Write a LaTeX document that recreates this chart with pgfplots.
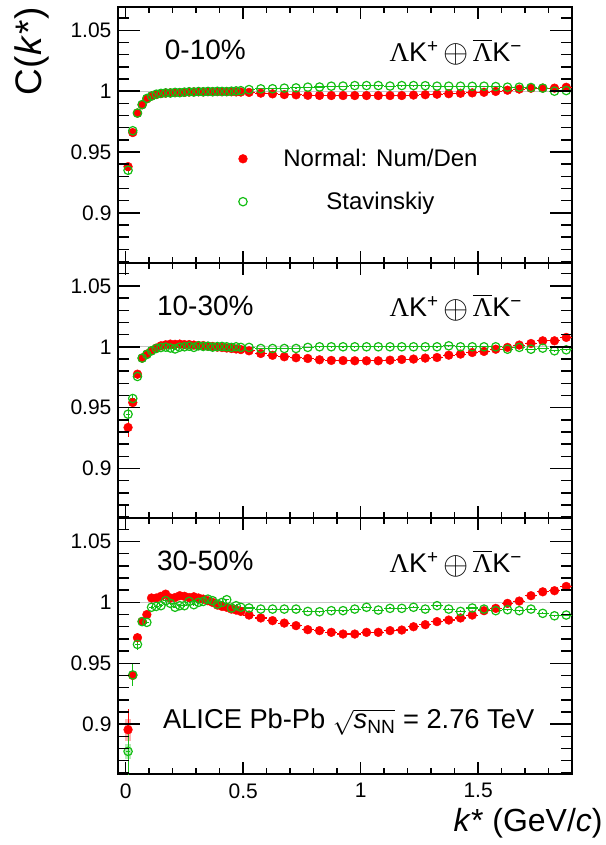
\documentclass[border=0pt]{standalone}
\usepackage{fontspec}
\setmainfont{Liberation Sans}
\newfontfamily\serif{Liberation Serif}
\usepackage{amsmath}
\usepackage{graphicx}
\usepackage{pgfplots}
\usepackage{pgfplotstable}
\pgfplotsset{compat=1.18}
\definecolor{rgreen}{RGB}{20,190,20}

% columns: k*, C, x error, y error
\pgfplotstableread{
x y ex ey
0.01 0.9380 0.01 0.0030
0.03 0.9660 0.01 0.0020
0.05 0.9820 0.01 0.0012
0.07 0.9888 0.01 0.0010
0.09 0.9937 0.01 0.0008
0.11 0.9960 0.01 0.0007
0.13 0.9972 0.01 0.0006
0.15 0.9980 0.01 0.0005
0.17 0.9984 0.01 0.0005
0.19 0.9986 0.01 0.0005
0.21 0.9987 0.01 0.0005
0.23 0.9989 0.01 0.0005
0.25 0.9990 0.01 0.0005
0.27 0.9993 0.01 0.0005
0.29 0.9994 0.01 0.0005
0.31 0.9995 0.01 0.0005
0.33 0.9994 0.01 0.0005
0.35 0.9996 0.01 0.0005
0.37 0.9995 0.01 0.0005
0.39 0.9996 0.01 0.0005
0.41 0.9995 0.01 0.0005
0.43 0.9996 0.01 0.0005
0.45 0.9995 0.01 0.0005
0.47 0.9994 0.01 0.0005
0.49 0.9993 0.01 0.0005
0.525 0.9990 0.025 0.0004
0.575 0.9984 0.025 0.0004
0.625 0.9978 0.025 0.0004
0.675 0.9972 0.025 0.0004
0.725 0.9970 0.025 0.0004
0.775 0.9966 0.025 0.0004
0.825 0.9965 0.025 0.0004
0.875 0.9964 0.025 0.0004
0.925 0.9964 0.025 0.0004
0.975 0.9964 0.025 0.0004
1.025 0.9964 0.025 0.0004
1.075 0.9964 0.025 0.0004
1.125 0.9964 0.025 0.0004
1.175 0.9964 0.025 0.0004
1.225 0.9968 0.025 0.0004
1.275 0.9971 0.025 0.0004
1.325 0.9975 0.025 0.0004
1.375 0.9979 0.025 0.0004
1.425 0.9983 0.025 0.0004
1.475 0.9986 0.025 0.0004
1.525 0.9991 0.025 0.0004
1.575 0.9998 0.025 0.0004
1.625 1.0008 0.025 0.0004
1.675 1.0017 0.025 0.0004
1.725 1.0024 0.025 0.0004
1.775 1.0025 0.025 0.0004
1.825 1.0025 0.025 0.0004
1.875 1.0032 0.025 0.0004
}\redA

\pgfplotstableread{
x y ex ey
0.01 0.9350 0.01 0.0030
0.03 0.9675 0.01 0.0020
0.05 0.9820 0.01 0.0012
0.07 0.9890 0.01 0.0010
0.09 0.9940 0.01 0.0008
0.11 0.9960 0.01 0.0007
0.13 0.9975 0.01 0.0006
0.15 0.9982 0.01 0.0005
0.17 0.9986 0.01 0.0005
0.19 0.9985 0.01 0.0005
0.21 0.9990 0.01 0.0005
0.23 0.9988 0.01 0.0005
0.25 0.9992 0.01 0.0005
0.27 0.9995 0.01 0.0005
0.29 0.9993 0.01 0.0005
0.31 0.9997 0.01 0.0005
0.33 0.9995 0.01 0.0005
0.35 0.9998 0.01 0.0005
0.37 0.9996 0.01 0.0005
0.39 0.9999 0.01 0.0005
0.41 0.9998 0.01 0.0005
0.43 0.9997 0.01 0.0005
0.45 1.0000 0.01 0.0005
0.47 1.0002 0.01 0.0005
0.49 1.0004 0.01 0.0005
0.525 1.0013 0.025 0.0004
0.575 1.0019 0.025 0.0004
0.625 1.0020 0.025 0.0004
0.675 1.0025 0.025 0.0004
0.725 1.0027 0.025 0.0004
0.775 1.0033 0.025 0.0004
0.825 1.0034 0.025 0.0004
0.875 1.0041 0.025 0.0004
0.925 1.0042 0.025 0.0004
0.975 1.0046 0.025 0.0004
1.025 1.0046 0.025 0.0004
1.075 1.0046 0.025 0.0004
1.125 1.0042 0.025 0.0004
1.175 1.0046 0.025 0.0004
1.225 1.0046 0.025 0.0004
1.275 1.0045 0.025 0.0004
1.325 1.0041 0.025 0.0004
1.375 1.0041 0.025 0.0004
1.425 1.0041 0.025 0.0004
1.475 1.0040 0.025 0.0004
1.525 1.0041 0.025 0.0004
1.575 1.0038 0.025 0.0004
1.625 1.0033 0.025 0.0004
1.675 1.0033 0.025 0.0004
1.725 1.0030 0.025 0.0004
1.775 1.0025 0.025 0.0004
1.825 1.0000 0.025 0.0004
1.875 1.0005 0.025 0.0004
}\greenA

\pgfplotstableread{
x y ex ey
0.01 0.9337 0.01 0.0075
0.03 0.9542 0.01 0.0040
0.05 0.9775 0.01 0.0020
0.07 0.9907 0.01 0.0012
0.09 0.9940 0.01 0.0010
0.11 0.9967 0.01 0.0008
0.13 0.9989 0.01 0.0007
0.15 1.0008 0.01 0.0006
0.17 1.0016 0.01 0.0006
0.19 1.0022 0.01 0.0006
0.21 1.0020 0.01 0.0006
0.23 1.0022 0.01 0.0006
0.25 1.0018 0.01 0.0006
0.27 1.0018 0.01 0.0006
0.29 1.0014 0.01 0.0006
0.31 1.0010 0.01 0.0006
0.33 1.0010 0.01 0.0006
0.35 1.0004 0.01 0.0006
0.37 1.0003 0.01 0.0006
0.39 0.9997 0.01 0.0006
0.41 0.9994 0.01 0.0006
0.43 0.9990 0.01 0.0006
0.45 0.9986 0.01 0.0006
0.47 0.9982 0.01 0.0006
0.49 0.9977 0.01 0.0006
0.525 0.9967 0.025 0.0005
0.575 0.9945 0.025 0.0005
0.625 0.9930 0.025 0.0005
0.675 0.9918 0.025 0.0005
0.725 0.9910 0.025 0.0005
0.775 0.9904 0.025 0.0005
0.825 0.9893 0.025 0.0005
0.875 0.9888 0.025 0.0005
0.925 0.9887 0.025 0.0005
0.975 0.9885 0.025 0.0005
1.025 0.9885 0.025 0.0005
1.075 0.9885 0.025 0.0005
1.125 0.9890 0.025 0.0005
1.175 0.9896 0.025 0.0005
1.225 0.9899 0.025 0.0005
1.275 0.9907 0.025 0.0005
1.325 0.9912 0.025 0.0005
1.375 0.9931 0.025 0.0005
1.425 0.9940 0.025 0.0005
1.475 0.9953 0.025 0.0005
1.525 0.9962 0.025 0.0005
1.575 0.9980 0.025 0.0005
1.625 0.9995 0.025 0.0005
1.675 1.0014 0.025 0.0005
1.725 1.0027 0.025 0.0005
1.775 1.0049 0.025 0.0005
1.825 1.0049 0.025 0.0005
1.875 1.0077 0.025 0.0005
}\redB

\pgfplotstableread{
x y ex ey
0.01 0.9446 0.01 0.0060
0.03 0.9575 0.01 0.0040
0.05 0.9756 0.01 0.0020
0.07 0.9907 0.01 0.0012
0.09 0.9937 0.01 0.0010
0.11 0.9967 0.01 0.0008
0.13 0.9986 0.01 0.0007
0.15 0.9994 0.01 0.0006
0.17 0.9997 0.01 0.0006
0.19 0.9990 0.01 0.0006
0.21 0.9982 0.01 0.0006
0.23 0.9997 0.01 0.0006
0.25 1.0000 0.01 0.0006
0.27 1.0005 0.01 0.0006
0.29 0.9995 0.01 0.0006
0.31 1.0008 0.01 0.0006
0.33 1.0003 0.01 0.0006
0.35 1.0005 0.01 0.0006
0.37 0.9997 0.01 0.0006
0.39 1.0002 0.01 0.0006
0.41 1.0003 0.01 0.0006
0.43 1.0000 0.01 0.0006
0.45 0.9995 0.01 0.0006
0.47 1.0000 0.01 0.0006
0.49 0.9995 0.01 0.0006
0.525 0.9995 0.025 0.0005
0.575 0.9986 0.025 0.0005
0.625 0.9986 0.025 0.0005
0.675 0.9986 0.025 0.0005
0.725 0.9986 0.025 0.0005
0.775 0.9995 0.025 0.0005
0.825 1.0000 0.025 0.0005
0.875 1.0000 0.025 0.0005
0.925 1.0000 0.025 0.0005
0.975 1.0000 0.025 0.0005
1.025 1.0000 0.025 0.0005
1.075 1.0000 0.025 0.0005
1.125 1.0000 0.025 0.0005
1.175 1.0000 0.025 0.0005
1.225 1.0000 0.025 0.0005
1.275 1.0000 0.025 0.0005
1.325 1.0000 0.025 0.0005
1.375 1.0008 0.025 0.0005
1.425 1.0000 0.025 0.0005
1.475 1.0000 0.025 0.0005
1.525 1.0000 0.025 0.0005
1.575 1.0000 0.025 0.0005
1.625 0.9980 0.025 0.0005
1.675 0.9995 0.025 0.0005
1.725 0.9980 0.025 0.0005
1.775 0.9989 0.025 0.0005
1.825 0.9967 0.025 0.0005
1.875 0.9975 0.025 0.0005
}\greenB

\pgfplotstableread{
x y ex ey
0.01 0.8954 0.01 0.0170
0.03 0.9400 0.01 0.0090
0.05 0.9710 0.01 0.0040
0.07 0.9844 0.01 0.0025
0.09 0.9900 0.01 0.0015
0.11 1.0036 0.01 0.0012
0.13 1.0036 0.01 0.0010
0.15 1.0050 0.01 0.0010
0.17 1.0068 0.01 0.0010
0.19 1.0036 0.01 0.0010
0.21 1.0040 0.01 0.0010
0.23 1.0055 0.01 0.0010
0.25 1.0050 0.01 0.0010
0.27 1.0040 0.01 0.0010
0.29 1.0046 0.01 0.0010
0.31 1.0036 0.01 0.0010
0.33 1.0027 0.01 0.0010
0.35 1.0014 0.01 0.0010
0.37 1.0000 0.01 0.0010
0.39 0.9978 0.01 0.0010
0.41 0.9967 0.01 0.0010
0.43 0.9960 0.01 0.0010
0.45 0.9945 0.01 0.0010
0.47 0.9937 0.01 0.0010
0.49 0.9926 0.01 0.0010
0.525 0.9896 0.025 0.0008
0.575 0.9872 0.025 0.0008
0.625 0.9850 0.025 0.0008
0.675 0.9830 0.025 0.0008
0.725 0.9809 0.025 0.0008
0.775 0.9776 0.025 0.0008
0.825 0.9768 0.025 0.0008
0.875 0.9754 0.025 0.0008
0.925 0.9740 0.025 0.0008
0.975 0.9740 0.025 0.0008
1.025 0.9754 0.025 0.0008
1.075 0.9754 0.025 0.0008
1.125 0.9768 0.025 0.0008
1.175 0.9773 0.025 0.0008
1.225 0.9800 0.025 0.0008
1.275 0.9817 0.025 0.0008
1.325 0.9842 0.025 0.0008
1.375 0.9855 0.025 0.0008
1.425 0.9872 0.025 0.0008
1.475 0.9896 0.025 0.0008
1.525 0.9932 0.025 0.0008
1.575 0.9951 0.025 0.0008
1.625 0.9992 0.025 0.0008
1.675 1.0011 0.025 0.0008
1.725 1.0055 0.025 0.0008
1.775 1.0087 0.025 0.0008
1.825 1.0096 0.025 0.0008
1.875 1.0131 0.025 0.0008
}\redC

\pgfplotstableread{
x y ex ey
0.01 0.8776 0.01 0.0200
0.03 0.9404 0.01 0.0090
0.05 0.9655 0.01 0.0050
0.07 0.9842 0.01 0.0025
0.09 0.9836 0.01 0.0015
0.11 0.9960 0.01 0.0012
0.13 0.9967 0.01 0.0010
0.15 0.9973 0.01 0.0010
0.17 1.0014 0.01 0.0010
0.19 0.9992 0.01 0.0010
0.21 0.9960 0.01 0.0010
0.23 0.9973 0.01 0.0010
0.25 0.9973 0.01 0.0010
0.27 1.0008 0.01 0.0010
0.29 0.9981 0.01 0.0010
0.31 1.0000 0.01 0.0010
0.33 1.0008 0.01 0.0010
0.35 1.0027 0.01 0.0010
0.37 1.0014 0.01 0.0010
0.39 0.9986 0.01 0.0010
0.41 1.0000 0.01 0.0010
0.43 1.0022 0.01 0.0010
0.45 0.9954 0.01 0.0010
0.47 0.9973 0.01 0.0010
0.49 0.9960 0.01 0.0010
0.525 0.9954 0.025 0.0008
0.575 0.9945 0.025 0.0008
0.625 0.9945 0.025 0.0008
0.675 0.9945 0.025 0.0008
0.725 0.9945 0.025 0.0008
0.775 0.9926 0.025 0.0008
0.825 0.9923 0.025 0.0008
0.875 0.9932 0.025 0.0008
0.925 0.9932 0.025 0.0008
0.975 0.9945 0.025 0.0008
1.025 0.9960 0.025 0.0008
1.075 0.9937 0.025 0.0008
1.125 0.9951 0.025 0.0008
1.175 0.9951 0.025 0.0008
1.225 0.9960 0.025 0.0008
1.275 0.9945 0.025 0.0008
1.325 0.9973 0.025 0.0008
1.375 0.9945 0.025 0.0008
1.425 0.9926 0.025 0.0008
1.475 0.9954 0.025 0.0008
1.525 0.9945 0.025 0.0008
1.575 0.9932 0.025 0.0008
1.625 0.9940 0.025 0.0008
1.675 0.9932 0.025 0.0008
1.725 0.9945 0.025 0.0008
1.775 0.9910 0.025 0.0008
1.825 0.9890 0.025 0.0008
1.875 0.9896 0.025 0.0008
}\greenC

\pgfplotsset{
  geom/.style={
    scale only axis, width=454.3pt, height=255.7pt,
    xmin=-0.033, xmax=1.9, ymin=0.859, ymax=1.069,
    tick align=inside,
    every tick/.append style={black, line width=1.5pt},
    tick label style={font=\fontsize{21}{25}\selectfont},
    /pgf/number format/assume math mode=true,
  },
  % frame, data, y ticks and their labels
  panel/.style={geom,
    axis line style={line width=2pt},
    xtick=\empty,
    ytick={0.9,0.95,1,1.05}, minor y tick num=4,
    major tick length=22pt, minor tick length=11pt,
    yticklabel style={xshift=-3pt},
  },
  % shorter x ticks and their labels
  xaxisticks/.style={geom,
    axis line style={draw=none},
    ytick=\empty,
    xtick={0,0.5,1,1.5}, minor x tick num=4,
    major tick length=12pt, minor tick length=6pt,
    xticklabel style={yshift=-6pt},
  },
  redpts/.style={only marks, mark=*, mark size=4.4pt, color=red,
    mark options={fill=red, draw=red},
    error bars/.cd, x dir=both, x explicit, y dir=both, y explicit,
    error mark=none, error bar style={line width=1.1pt, red}},
  greenpts/.style={only marks, mark=o, mark size=4.2pt, color=rgreen,
    mark options={draw=rgreen, line width=1.2pt},
    error bars/.cd, x dir=both, x explicit, y dir=both, y explicit,
    error mark=none, error bar style={line width=1.1pt, rgreen}},
  unity/.style={gray!45, line width=1pt, forget plot},
}
\tikzset{
  lbl/.style={anchor=base, font=\fontsize{28}{32}\selectfont},
  sys/.style={anchor=base, font=\fontsize{27}{30}\selectfont},
  tk/.style={draw=black, line width=1.5pt},
}
\newcommand{\system}{{\serif Λ}K\textsuperscript{+}\,\raisebox{-1.5pt}{\scalebox{1.3}{$\oplus$}}\,$\overline{\text{\serif Λ}}$K\textsuperscript{−}}

\begin{document}
\begin{tikzpicture}

% 30-50%
\begin{axis}[panel, at={(0,0)}, name=pC]
\addplot[unity] coordinates {(-0.033,1) (1.9,1)};
\addplot[forget plot, draw=none, mark=none, error bars/.cd, y dir=both, y explicit,
  error mark=none, error bar style={draw=red!30, line width=6pt}]
  coordinates {(0.01,0.8954) +- (0,0.009)};
\addplot[forget plot, draw=none, mark=none, error bars/.cd, y dir=both, y explicit,
  error mark=none, error bar style={draw=rgreen!30, line width=6pt}]
  coordinates {(0.01,0.8776) +- (0,0.006)};
\addplot[forget plot, redpts] table[x=x, y=y, x error=ex, y error=ey] {\redC};
\addplot[forget plot, greenpts] table[x=x, y=y, x error=ex, y error=ey] {\greenC};
\node[lbl] at (axis cs:0.339,1.026) {30-50\%};
\node[sys] at (axis cs:1.405,1.0245) {\system};
\node[anchor=base, font=\fontsize{27.3}{30}\selectfont] at (axis cs:0.949,0.896)
  {ALICE Pb-Pb $\sqrt{\text{\textit{s}}_{\text{NN}}}$ = 2.76 TeV};
\end{axis}
\begin{axis}[xaxisticks, at={(0,0)}]
\end{axis}

% 10-30%
\begin{axis}[panel, at={(0,255.7pt)}]
\addplot[unity] coordinates {(-0.033,1) (1.9,1)};
\addplot[forget plot, redpts] table[x=x, y=y, x error=ex, y error=ey] {\redB};
\addplot[forget plot, greenpts] table[x=x, y=y, x error=ex, y error=ey] {\greenB};
\node[lbl] at (axis cs:0.339,1.026) {10-30\%};
\node[sys] at (axis cs:1.405,1.0245) {\system};
\end{axis}
\begin{axis}[xaxisticks, at={(0,255.7pt)}, xticklabels={}]
\end{axis}

% 0-10%
\begin{axis}[panel, at={(0,511.4pt)}, name=pA,
  legend style={at={(axis cs:0.4796,0.954)}, anchor=north west,
    draw=none, fill=none, font=\fontsize{24}{28}\selectfont,
    row sep=20pt, inner sep=0pt,
    /tikz/every odd column/.append style={column sep=34pt}},
  legend cell align=center,
  legend image code/.code={\draw[#1] plot coordinates {(0pt,0pt)};},
]
\addplot[unity] coordinates {(-0.033,1) (1.9,1)};
\addplot[forget plot, redpts] table[x=x, y=y, x error=ex, y error=ey] {\redA};
\addplot[forget plot, greenpts] table[x=x, y=y, x error=ex, y error=ey] {\greenA};
\addlegendimage{only marks, mark=*, mark size=4.4pt, red, mark options={fill=red}}
\addlegendentry{Normal: Num/Den}
\addlegendimage{only marks, mark=o, mark size=4.2pt, rgreen, mark options={line width=1.2pt}}
\addlegendentry{Stavinskiy}
\node[lbl] at (axis cs:0.339,1.026) {0-10\%};
\node[sys] at (axis cs:1.405,1.0245) {\system};
\end{axis}
\begin{axis}[xaxisticks, at={(0,511.4pt)}, xticklabels={}]
\end{axis}

% tick marks on all four sides of each panel
\foreach \p in {0,1,2} {
  \pgfmathsetmacro\yb{\p*255.7}
  \pgfmathsetmacro\yt{(\p+1)*255.7}
  \foreach \i in {86,...,106} {
    \pgfmathsetmacro\yy{\yb + (\i/100-0.859)/0.21*255.7}
    \pgfmathsetmacro\tl{ifthenelse(mod(\i,5)==0,22,11)}
    \draw[tk] (0pt,\yy pt) -- ++(\tl pt,0pt);
    \draw[tk] (454.3pt,\yy pt) -- ++(-\tl pt,0pt);
  }
  \foreach \i in {0,...,18} {
    \pgfmathsetmacro\xx{(\i/10+0.033)/1.933*454.3}
    \pgfmathsetmacro\tl{ifthenelse(mod(\i,5)==0,12,6)}
    \draw[tk] (\xx pt,\yb pt) -- ++(0pt,\tl pt);
    \draw[tk] (\xx pt,\yt pt) -- ++(0pt,-\tl pt);
  }
}

\node[rotate=90, anchor=north east, inner sep=0pt, font=\fontsize{37}{42}\selectfont]
  at ([xshift=-103pt]pA.north west) {C(\kern1pt\textit{k}\kern1pt*)};
\node[anchor=base east, inner sep=0pt, font=\fontsize{32}{36}\selectfont]
  at ([xshift=30.7pt, yshift=-57pt]pC.south east) {\textit{k}* (GeV/\textit{c})};
\path (-118pt,-71pt) rectangle (488pt,774.3pt);
\end{tikzpicture}
\end{document}
